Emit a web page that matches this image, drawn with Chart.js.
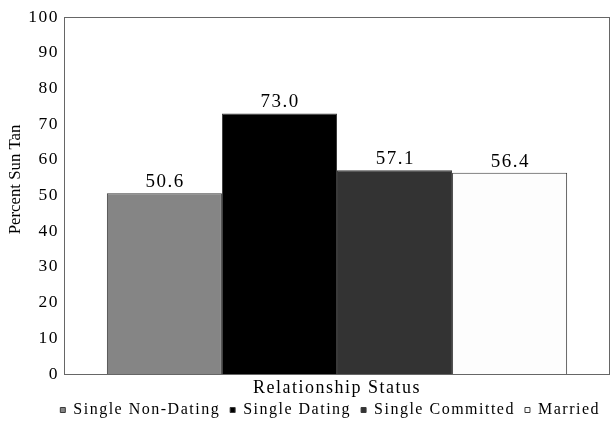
<!DOCTYPE html>
<html><head><meta charset="utf-8">
<script src="https://cdn.jsdelivr.net/npm/chart.js@4/dist/chart.umd.min.js"></script>
<style>html,body{margin:0;padding:0;background:#fff;}#wrap{width:612px;height:422px;}</style>
</head><body><div id="wrap"><canvas id="c" width="612" height="422"></canvas></div>
<script>
const categories = [''];
const seriesNames = ['Single Non-Dating', 'Single Dating', 'Single Committed', 'Married'];
const seriesValues = [[50.6], [73.0], [57.1], [56.4]];
const seriesColors = ['#858585', '#000000', '#333333', '#fdfdfd'];
const yTicks = [0, 10, 20, 30, 40, 50, 60, 70, 80, 90, 100];
const yTitle = 'Percent Sun Tan';
const xTitle = 'Relationship Status';

const FONT = "'Liberation Serif', 'Times New Roman', serif";
const SPACING = '1.5px';

const canvas = document.getElementById('c');
const ctx0 = canvas.getContext('2d');
const protoFill = CanvasRenderingContext2D.prototype.fillText;
// horizontal text gets the wide letter spacing of the reference; rotated text does not
ctx0.fillText = function (t, x, y, mw) {
  const m = this.getTransform();
  if (Math.abs(m.b) > 0.01) {
    const ls = this.letterSpacing;
    this.letterSpacing = '0px';
    if (mw === undefined) protoFill.call(this, t, x, y); else protoFill.call(this, t, x, y, mw);
    this.letterSpacing = ls;
  } else {
    if (mw === undefined) protoFill.call(this, t, x, y); else protoFill.call(this, t, x, y, mw);
  }
};

const spacingPlugin = {
  id: 'spacing',
  beforeUpdate(chart) { chart.ctx.letterSpacing = SPACING; },
  beforeDraw(chart) { chart.ctx.letterSpacing = SPACING; }
};

const boxPlugin = {
  id: 'box',
  afterDatasetsDraw(chart) {
    const a = chart.chartArea, ctx = chart.ctx;
    ctx.save();
    ctx.letterSpacing = SPACING;
    ctx.strokeStyle = '#666';
    ctx.lineWidth = 1;
    ctx.strokeRect(Math.round(a.left) + 0.5, Math.round(a.top) + 0.5, Math.round(a.right - a.left) - 1, Math.round(a.bottom - a.top));
    ctx.fillStyle = '#000';
    ctx.font = "19px " + FONT;
    ctx.textAlign = 'center';
    ctx.textBaseline = 'alphabetic';
    chart.data.datasets.forEach((ds, i) => {
      const meta = chart.getDatasetMeta(i);
      meta.data.forEach((bar, j) => {
        ctx.fillText(ds.data[j].toFixed(1), bar.x + 0.75, bar.y - 6);
      });
    });
    // y-axis title (sits slightly above the plot's middle in the reference)
    ctx.translate(16, a.top + (a.bottom - a.top) * 0.455);
    ctx.rotate(-Math.PI / 2);
    ctx.font = "16.8px " + FONT;
    ctx.textBaseline = 'middle';
    ctx.fillText(yTitle, 0, 0);
    ctx.restore();
  }
};

new Chart(canvas, {
  type: 'bar',
  data: {
    labels: categories,
    datasets: seriesNames.map((n, i) => ({
      label: n,
      data: seriesValues[i],
      backgroundColor: seriesColors[i],
      borderColor: '#3a3a3a',
      borderWidth: 1,
      barPercentage: 1,
      categoryPercentage: 0.843
    }))
  },
  options: {
    responsive: false,
    animation: false,
    devicePixelRatio: 1,
    layout: { padding: { left: 0, right: 2, top: 17, bottom: -6 } },
    plugins: {
      legend: {
        position: 'bottom',
        align: 'end',
        labels: {
          boxWidth: 5, boxHeight: 5, padding: 10,
          color: '#000',
          font: { family: FONT, size: 16 }
        }
      },
      tooltip: { enabled: false }
    },
    scales: {
      x: {
        grid: { display: false, drawTicks: false },
        border: { display: false },
        ticks: { display: false },
        title: { display: true, text: xTitle, color: '#000', font: { family: FONT, size: 18 }, padding: { top: 3.5, bottom: -7.1 } }
      },
      y: {
        min: 0, max: 100,
        afterBuildTicks(scale) { scale.ticks = yTicks.map(v => ({ value: v })); },
        afterFit(scale) { scale.width = 64; },
        grid: { display: false, drawTicks: false },
        border: { display: true, color: '#666' },
        ticks: { color: '#000', font: { family: FONT, size: 17.5 }, padding: 5 },
        title: { display: false }
      }
    }
  },
  plugins: [spacingPlugin, boxPlugin]
});
</script></body></html>
